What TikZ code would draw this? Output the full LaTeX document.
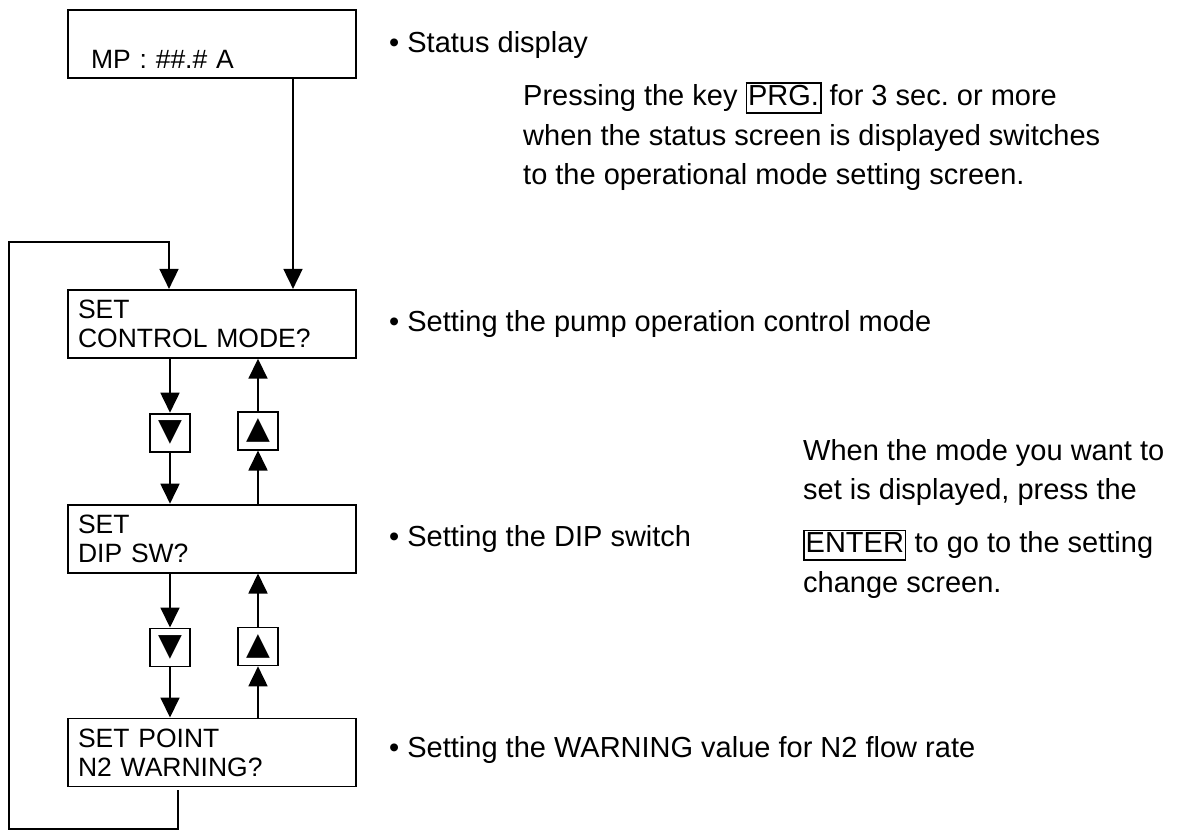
\documentclass[tikz,border=0pt]{standalone}
\usepackage{fontspec}
\setmainfont{Liberation Sans}
\newfontfamily\symfont{DejaVu Sans}
\usetikzlibrary{arrows.meta, positioning}
\frenchspacing
\tikzstyle{screen} = [rectangle, draw=black, line width=1.8pt, minimum width=288pt, minimum height=68pt,
                      inner xsep=10pt, text width=268pt, align=left, font=\fontsize{26.5}{29}\selectfont]
\tikzstyle{keybtn} = [rectangle, draw=black, line width=1.8pt, minimum width=40pt, minimum height=38pt,
                      inner sep=0pt, font=\symfont\fontsize{31}{31}\selectfont]
\tikzstyle{note}   = [anchor=base west, inner sep=0pt, font=\fontsize{29}{35}\selectfont]
\tikzstyle{arrow}  = [line width=1.8pt, -{Triangle[width=19pt,length=20pt]}]
\newcommand{\keyname}[1]{{\setlength{\fboxsep}{1pt}\setlength{\fboxrule}{1.5pt}\fbox{\vphantom{Pg}#1}}}

\begin{document}
\begin{tikzpicture}[x=1pt, y=-1pt]
  \useasboundingbox[fill=white] (0,0) rectangle (1182,830);

  \node (status) [screen, text height=48pt, text depth=0pt] at (212,44) {\hspace*{13pt}MP : \#\#.\# A};
  \node (ctrl)   [screen, below=210pt of status] {SET\\CONTROL MODE?};
  \node (dip)    [screen, below=145pt of ctrl]   {SET\\DIP SW?};
  \node (warn)   [screen, below=144pt of dip]    {SET POINT\\N2 WARNING?};

  \node (down1) [keybtn, below=54pt of ctrl, xshift=-42pt] {▼};
  \node (up1)   [keybtn, below=52pt of ctrl, xshift=46pt]  {▲};
  \node (down2) [keybtn, below=54pt of dip, xshift=-42pt]  {▼};
  \node (up2)   [keybtn, below=53pt of dip, xshift=46pt]   {▲};

  \draw[arrow] ([xshift=81pt]status.south) -- ([xshift=81pt]ctrl.north);
  \draw[arrow] (ctrl.south -| down1) -- (down1);
  \draw[arrow] (down1) -- (dip.north -| down1);
  \draw[arrow] (dip.north -| up1) -- (up1);
  \draw[arrow] (up1) -- (ctrl.south -| up1);
  \draw[arrow] (dip.south -| down2) -- (down2);
  \draw[arrow] (down2) -- (warn.north -| down2);
  \draw[arrow] (warn.north -| up2) -- (up2);
  \draw[arrow] (up2) -- (dip.south -| up2);
  % back to the first setting screen
  \draw[arrow] ([xshift=-34pt,yshift=-3pt]warn.south) -- ++(0,39) -| (9,242) -| ([xshift=-43pt]ctrl.north);

  \node (statusnote) [note] at (389,52)  {• Status display};
  \node (prgline1)   [note] at (523,105) {Pressing the key \keyname{PRG.} for 3 sec. or more};
  \node (prgline2)   [note] at (523,145) {when the status screen is displayed switches};
  \node (prgline3)   [note] at (523,184) {to the operational mode setting screen.};
  \node (ctrlnote)   [note] at (389,331) {• Setting the pump operation control mode};
  \node (dipnote)    [note] at (389,546) {• Setting the DIP switch};
  \node (warnnote)   [note] at (389,757) {• Setting the WARNING value for N2 flow rate};
  \node (entline1)   [note] at (803,460) {When the mode you want to};
  \node (entline2)   [note] at (803,499) {set is displayed, press the};
  \node (entline3)   [note] at (803,552) {\keyname{ENTER} to go to the setting};
  \node (entline4)   [note] at (803,592) {change screen.};
\end{tikzpicture}
\end{document}
